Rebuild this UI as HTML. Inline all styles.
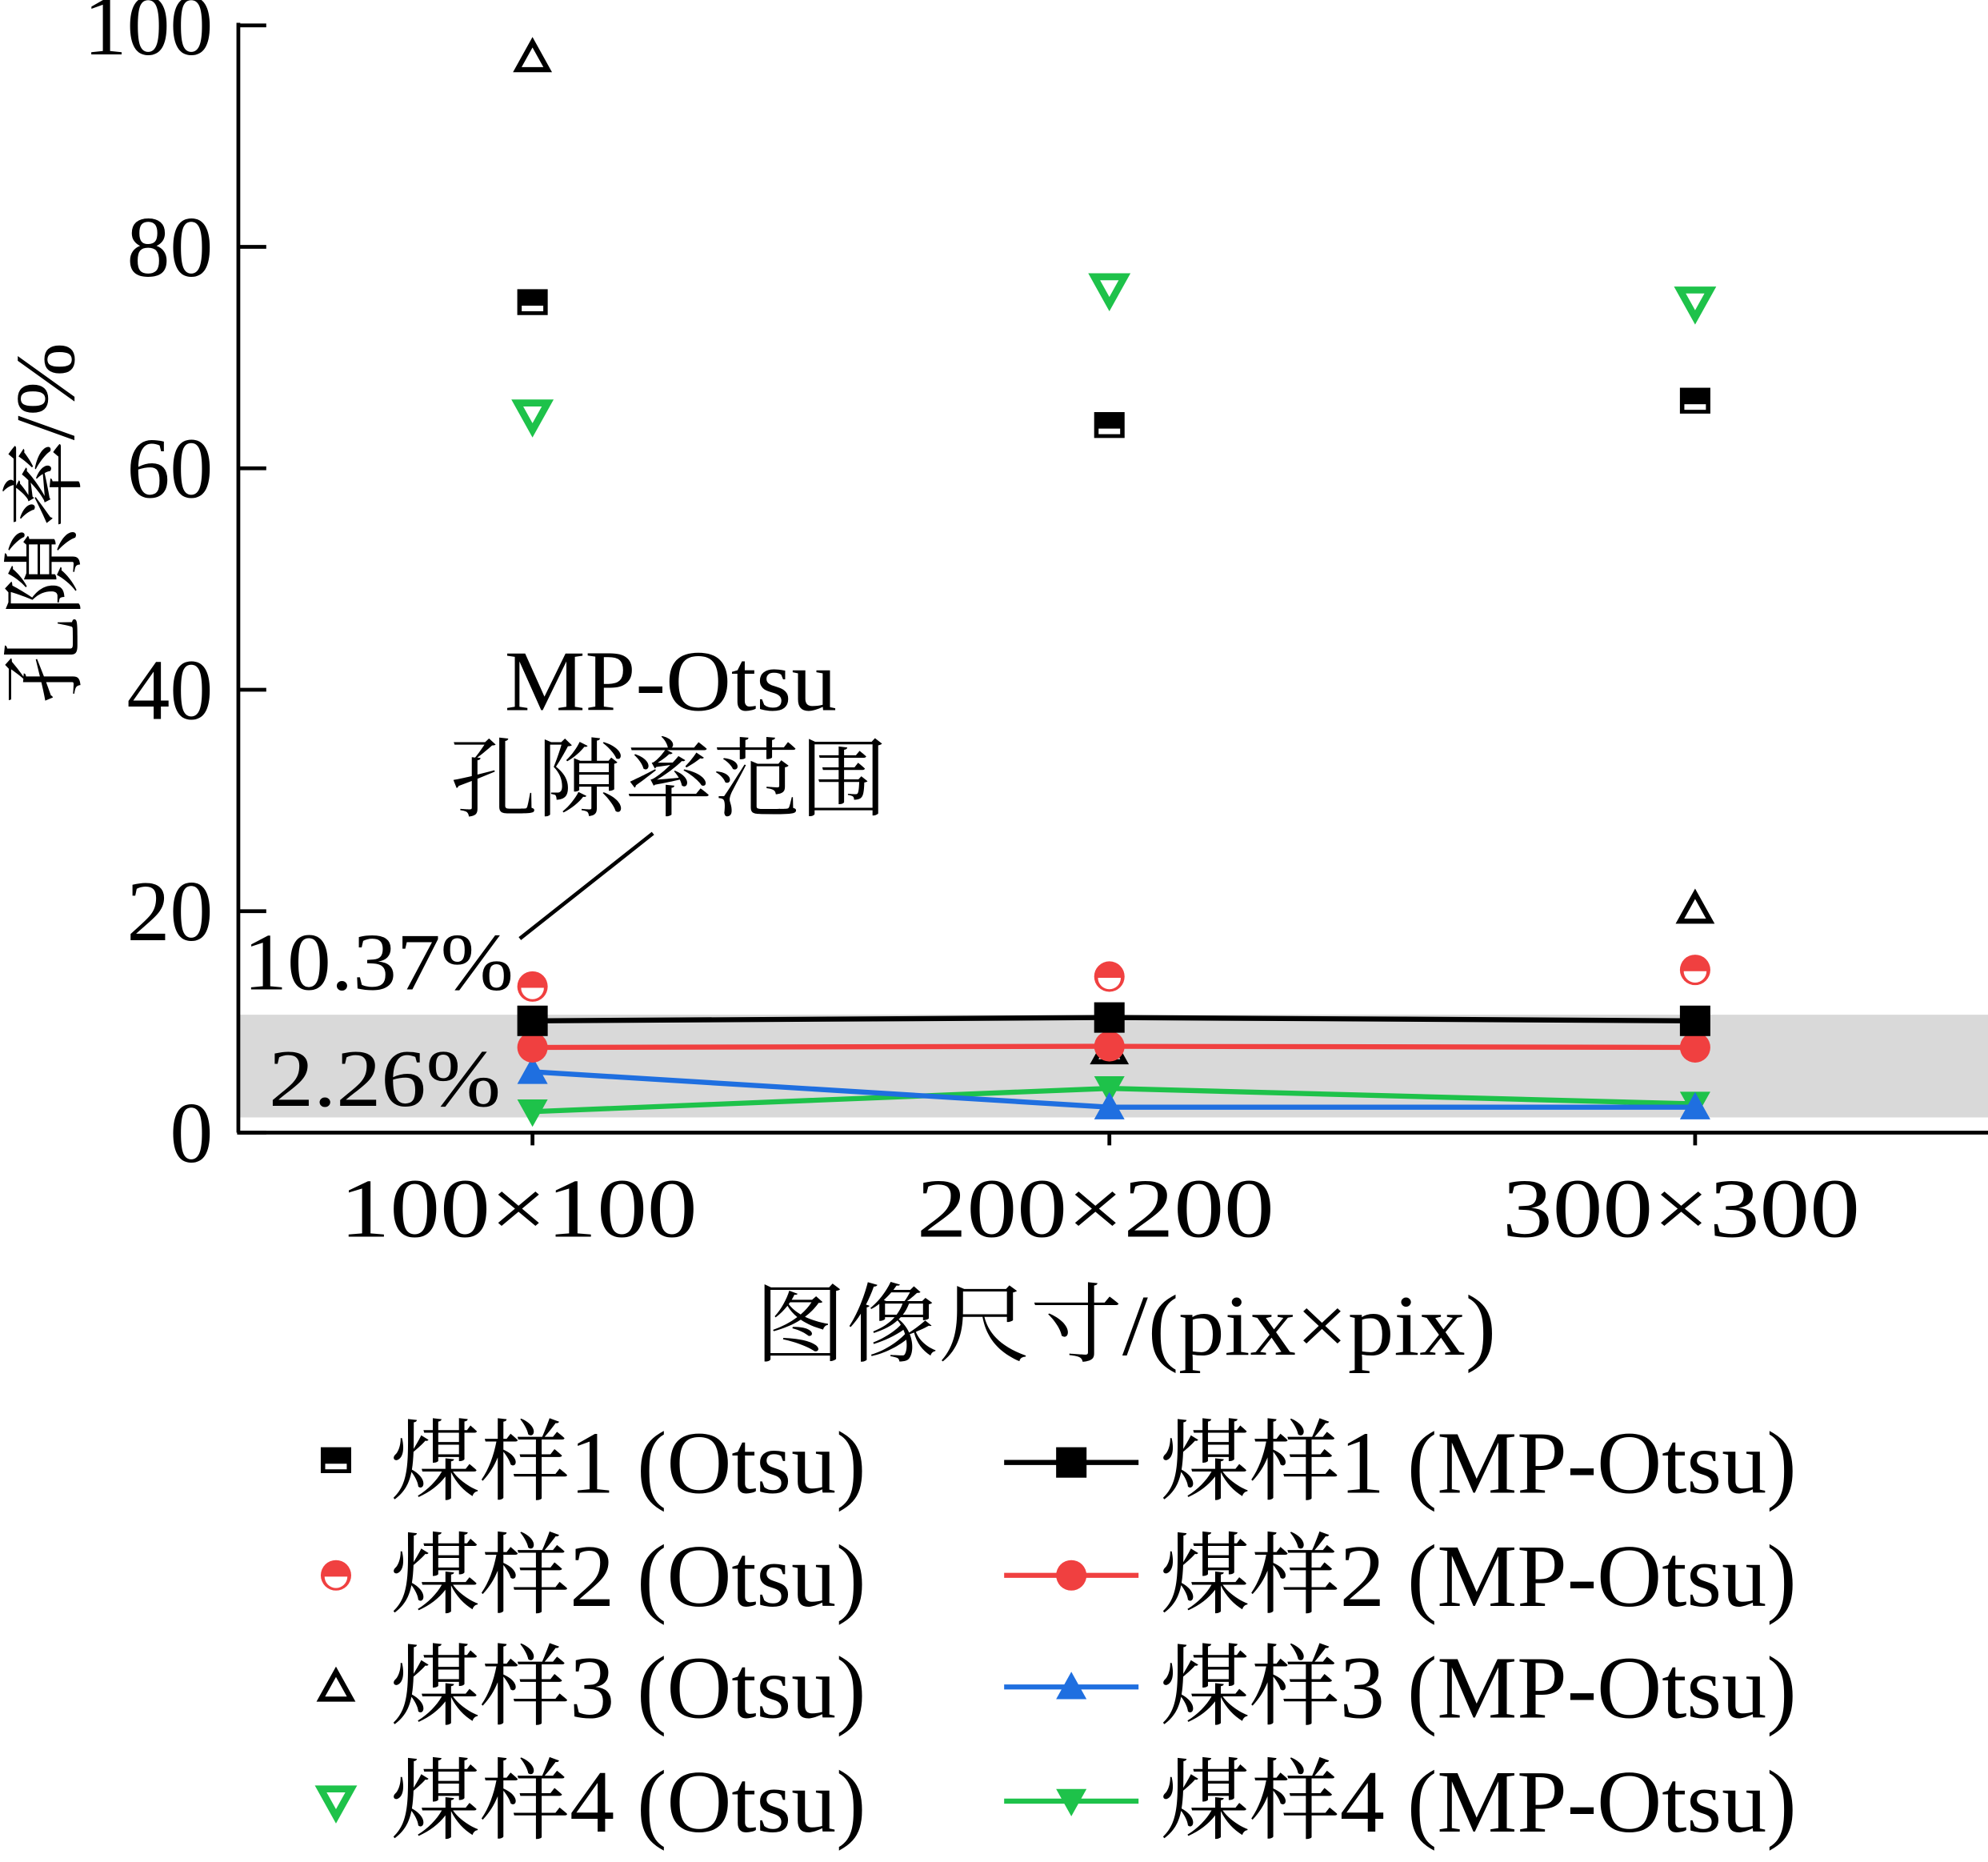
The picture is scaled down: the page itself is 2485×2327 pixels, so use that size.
<!DOCTYPE html>
<html><head><meta charset="utf-8"><style>
html,body{margin:0;padding:0;background:#fff;}
svg{display:block;}
text{font-family:"Liberation Serif","Noto Serif CJK SC","Noto Sans CJK SC",serif;fill:#000;}
</style></head><body>
<svg id="chart" width="2485" height="2327" viewBox="0 0 1568 1468" preserveAspectRatio="none" xmlns="http://www.w3.org/2000/svg">
<rect x="188" y="800" width="1380" height="81" fill="#d9d9d9"/>
<g id="axes"></g>
<g id="marks"></g>
<text x="398" y="560" font-size="68" textLength="262" lengthAdjust="spacingAndGlyphs">MP-Otsu</text>
<text x="355" y="638" font-size="68" textLength="345" lengthAdjust="spacingAndGlyphs">孔隙率范围</text>
<line x1="410" y1="740" x2="515" y2="657" stroke="#000" stroke-width="3"/>
<text x="192" y="780" font-size="64" textLength="213" lengthAdjust="spacingAndGlyphs">10.37%</text>
<text x="212" y="872" font-size="64" textLength="183" lengthAdjust="spacingAndGlyphs">2.26%</text>
<text transform="translate(58,555) rotate(-90)" font-size="66" textLength="285" lengthAdjust="spacingAndGlyphs">孔隙率/%</text>
<text x="595" y="1068" font-size="68" textLength="585" lengthAdjust="spacingAndGlyphs">图像尺寸/(pix×pix)</text>
<g id="legend"></g>
</svg>
<script>
const categories = ["100×100","200×200","300×300"];
const yTicks = [0,20,40,60,80,100];
const otsu1 = [74.8,63.7,65.9];
const otsu2 = [13.2,14.1,14.7];
const otsu3 = [97.1,7.5,20.2];
const otsu4 = [64.8,76.2,75.0];
const mp1 = [10.1,10.4,10.1];
const mp2 = [7.7,7.8,7.7];
const mp3 = [5.5,2.3,2.3];
const mp4 = [1.9,4.0,2.6];
const NS="http://www.w3.org/2000/svg";
const X0=188, Y0=893, Y100=20;
const catX=[420,875,1337];
function xs(i){return catX[i];}
function ys(v){return Y0-(v/100)*(Y0-Y100);}
function mk(tag,attrs,parent){const e=document.createElementNS(NS,tag);for(const k in attrs)e.setAttribute(k,attrs[k]);parent.appendChild(e);return e;}
const axes=document.getElementById('axes'), marks=document.getElementById('marks'), legend=document.getElementById('legend');
let a=mk('line',{x1:X0,y1:18,x2:X0,y2:Y0,stroke:'#000','stroke-width':3},axes);


a=mk('line',{x1:X0-1,y1:Y0,x2:1568,y2:Y0,stroke:'#000','stroke-width':3},axes);


yTicks.forEach(v=>{
 const t=mk('line',{x1:X0,y1:ys(v),x2:X0+22,y2:ys(v),stroke:'#000','stroke-width':3},axes);
 
 
 const l=mk('text',{x:168,y:ys(v)+23,'font-size':68,'text-anchor':'end'},axes);
 l.textContent=v;
 
 
});
categories.forEach((c,i)=>{
 const t=mk('line',{x1:xs(i),y1:Y0,x2:xs(i),y2:Y0+10,stroke:'#000','stroke-width':3},axes);
 
 
 const l=mk('text',{x:xs(i)-152,y:975,'font-size':66,textLength:282,lengthAdjust:'spacingAndGlyphs'},axes);
 l.textContent=c;
 
 
});
const GREEN='#1ec24a', RED='#f04040', BLUE='#1f6fe0';
function marker(type,x,y,parent,s){
 s=s||11;
 const g=mk('g',{},parent);
 if(type==='hsq'){mk('rect',{x:x-s,y:y-s,width:2*s,height:2*s*0.85,fill:'#000'},g);mk('rect',{x:x-s+3.5,y:y+1,width:2*s-7,height:s*0.7-4,fill:'#fff'},g);}
 else if(type==='hci'){mk('circle',{cx:x,cy:y,r:s,fill:RED},g);mk('path',{d:`M${x-s+3},${y+1} A${s-3},${s-3} 0 0 0 ${x+s-3},${y+1} Z`,fill:'#fff'},g);}
 else if(type==='otri'){mk('path',{d:`M${x},${y-s} L${x+s},${y+s*0.8} L${x-s},${y+s*0.8} Z`,fill:'none',stroke:'#000','stroke-width':4},g);}
 else if(type==='odtri'){mk('path',{d:`M${x-s},${y-s*0.8} L${x+s},${y-s*0.8} L${x},${y+s} Z`,fill:'none',stroke:GREEN,'stroke-width':5.5},g);}
 else if(type==='sq'){mk('rect',{x:x-s,y:y-s,width:2*s,height:2*s,fill:'#000'},g);}
 else if(type==='ci'){mk('circle',{cx:x,cy:y,r:s,fill:RED},g);}
 else if(type==='tri'){mk('path',{d:`M${x},${y-s} L${x+s},${y+s*0.8} L${x-s},${y+s*0.8} Z`,fill:BLUE},g);}
 else if(type==='dtri'){mk('path',{d:`M${x-s},${y-s*0.8} L${x+s},${y-s*0.8} L${x},${y+s} Z`,fill:GREEN},g);}
 return g;
}
[[otsu3,'otri','otsu3-point',12],[otsu1,'hsq','otsu1-point',12],[otsu2,'hci','otsu2-point',12],[otsu4,'odtri','otsu4-point',12]].forEach(([d,t,n,s])=>{
 d.forEach((v,i)=>{const m=marker(t,xs(i),ys(v),marks,s);
 
 });
});
[[mp4,GREEN,'dtri','mp4'],[mp3,BLUE,'tri','mp3'],[mp2,RED,'ci','mp2'],[mp1,'#000','sq','mp1']].forEach(([d,c,t,n])=>{
 const pts=d.map((v,i)=>xs(i)+','+ys(v)).join(' ');
 const pl=mk('polyline',{points:pts,fill:'none',stroke:c,'stroke-width':4},marks);
 
 
 d.forEach((v,i)=>{const m=marker(t,xs(i),ys(v),marks,12);
 
 });
});
const rows=[1153,1242,1330,1420];
const leftItems=[['hsq','煤样1 (Otsu)'],['hci','煤样2 (Otsu)'],['otri','煤样3 (Otsu)'],['odtri','煤样4 (Otsu)']];
const rightItems=[['sq','#000','煤样1 (MP-Otsu)'],['ci',RED,'煤样2 (MP-Otsu)'],['tri',BLUE,'煤样3 (MP-Otsu)'],['dtri',GREEN,'煤样4 (MP-Otsu)']];
leftItems.forEach(([t,l],i)=>{
 const g=mk('g',{},legend);
 
 
 marker(t,265,rows[i],g,12);
 const tx=mk('text',{x:308,y:rows[i]+24,'font-size':70,textLength:375,lengthAdjust:'spacingAndGlyphs'},g);tx.textContent=l;
});
rightItems.forEach(([t,c,l],i)=>{
 const g=mk('g',{},legend);
 
 
 mk('line',{x1:792,y1:rows[i],x2:898,y2:rows[i],stroke:c,'stroke-width':4},g);
 marker(t,845,rows[i],g,12);
 const tx=mk('text',{x:915,y:rows[i]+24,'font-size':70,textLength:502,lengthAdjust:'spacingAndGlyphs'},g);tx.textContent=l;
});
</script>
</body></html>
